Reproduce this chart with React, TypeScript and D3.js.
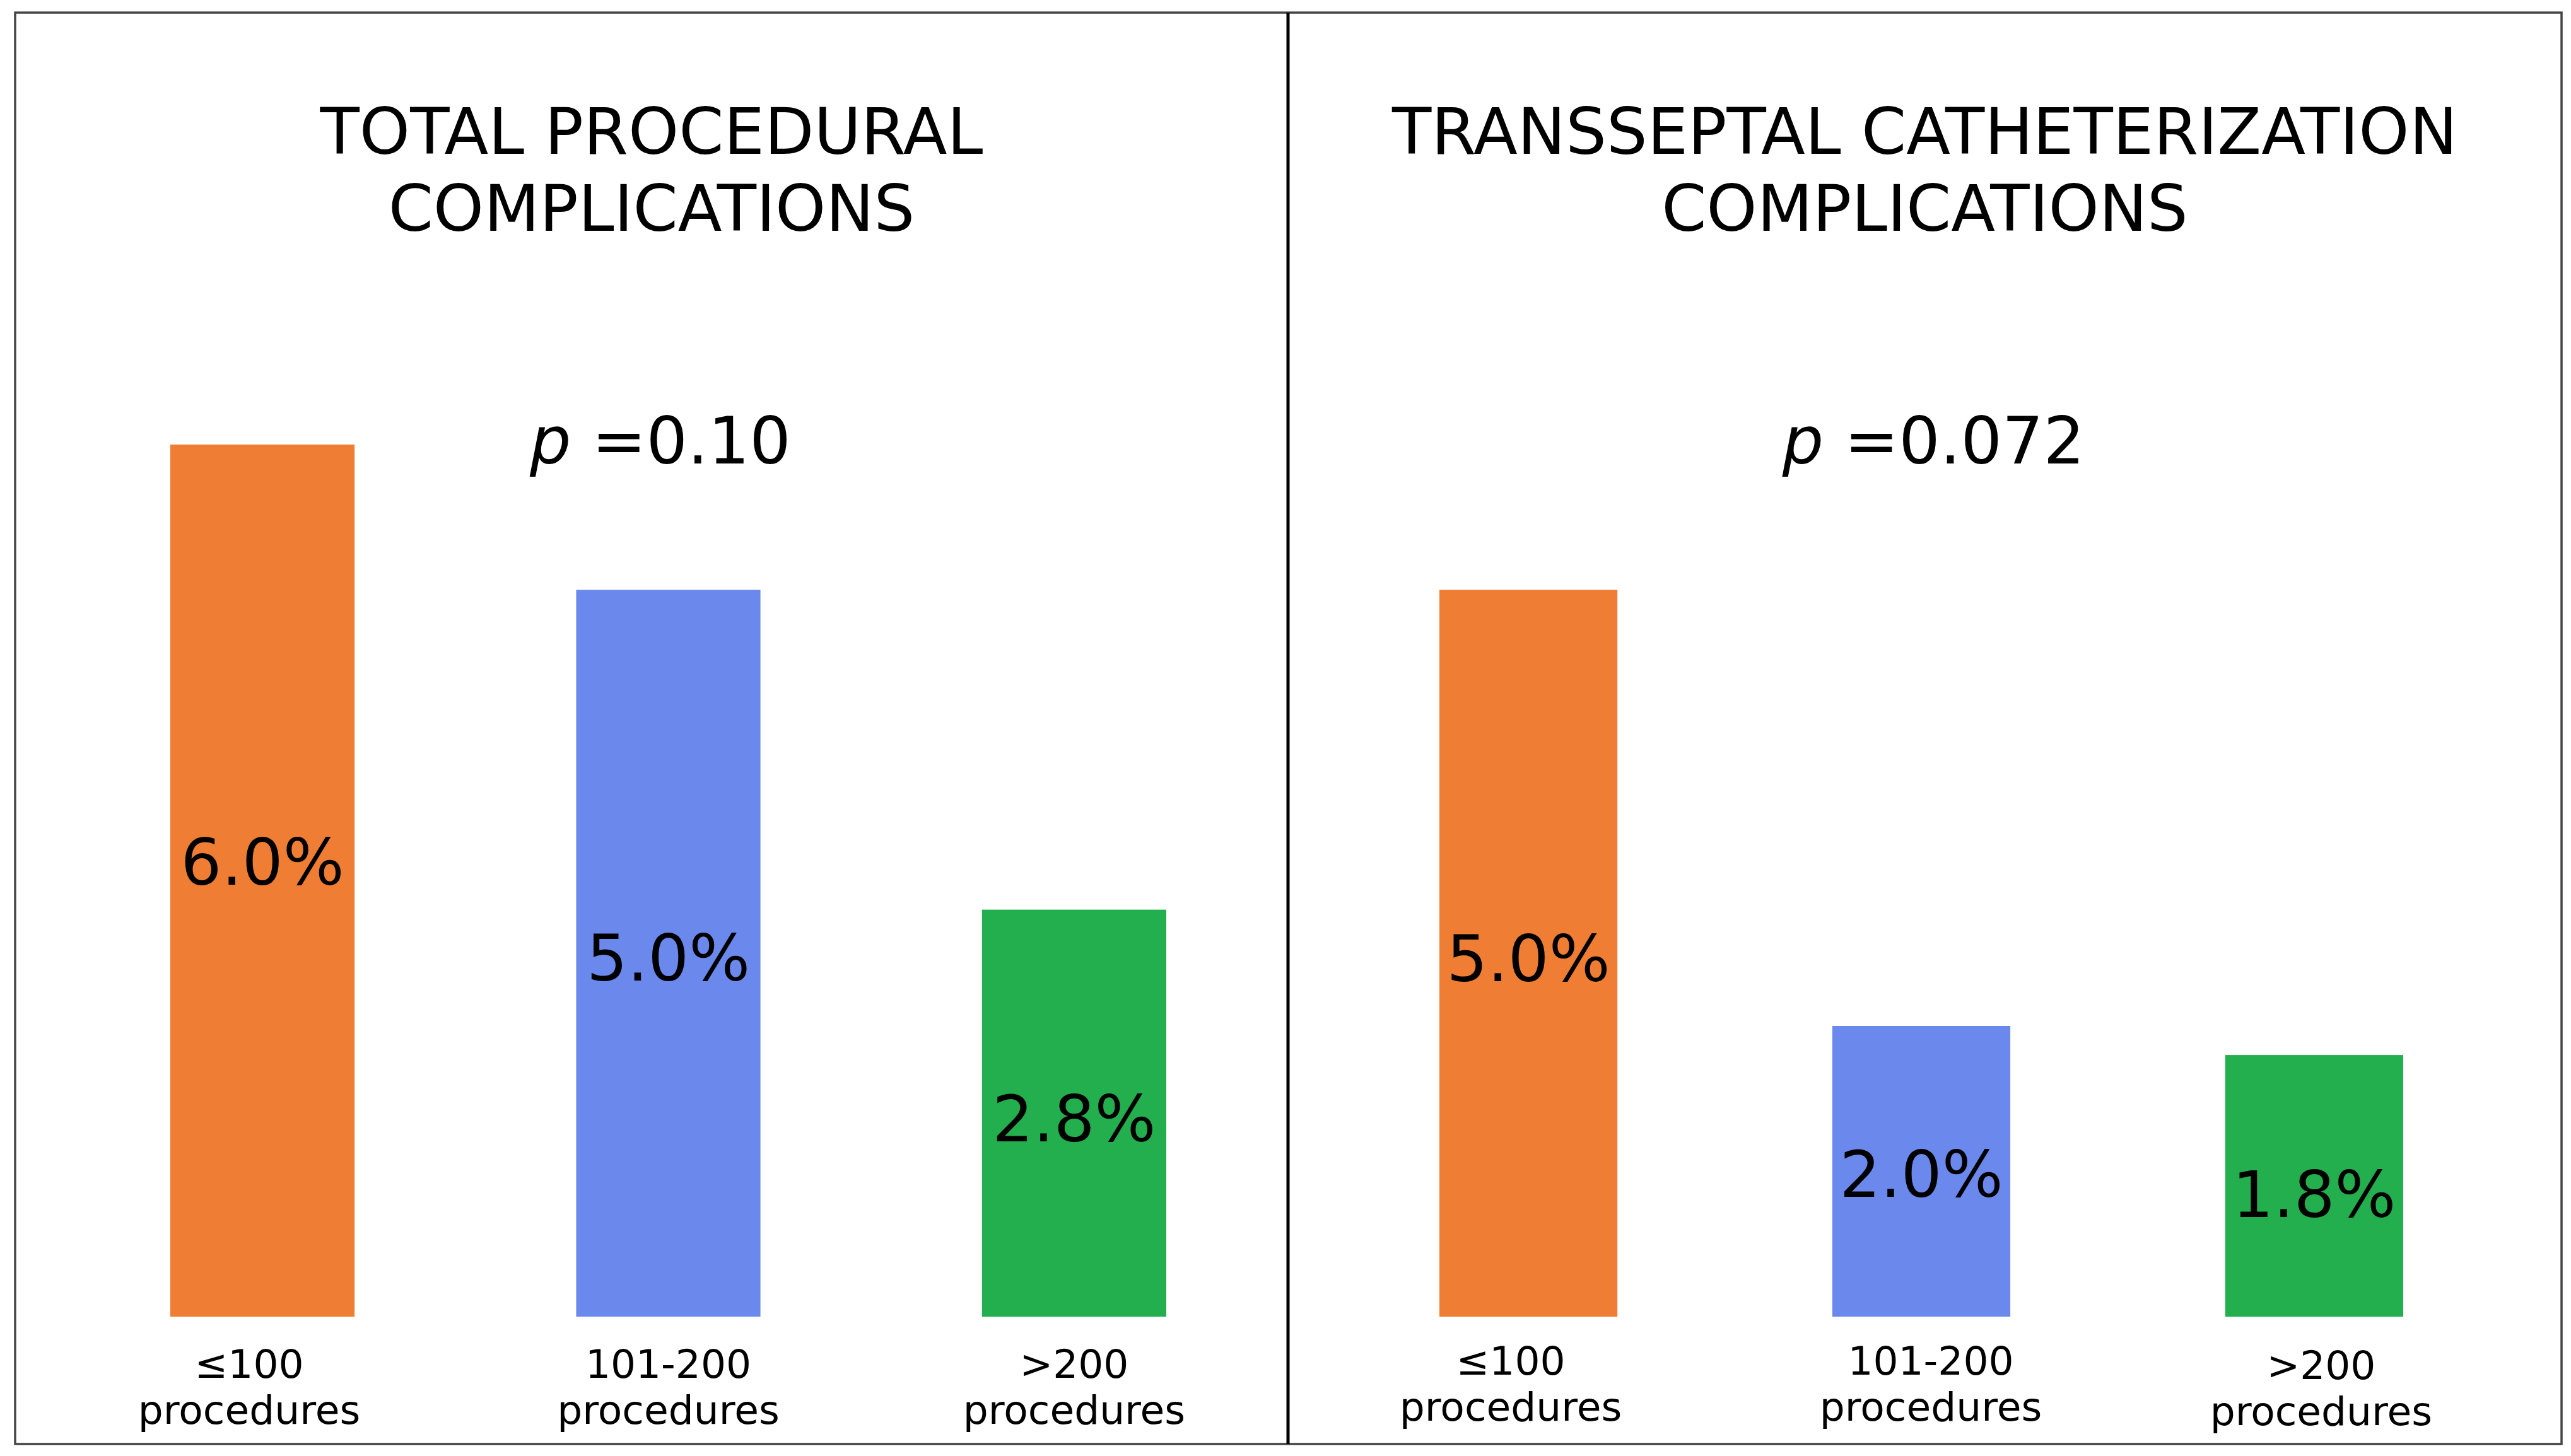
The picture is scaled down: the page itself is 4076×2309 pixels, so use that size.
import React from "react";
import * as d3 from "d3";

const categories = ["≤100", "101-200", ">200"];
const categorySub = "procedures";
const totalValues = [6.0, 5.0, 2.8];
const transseptalValues = [5.0, 2.0, 1.8];
const panelTitles = [
  ["TOTAL PROCEDURAL", "COMPLICATIONS"],
  ["TRANSSEPTAL CATHETERIZATION", "COMPLICATIONS"],
];
const pValues = ["=0.10", "=0.072"];
const colors = ["#EF7D33", "#6B88ED", "#23AF4E"];

const W = 4076;
const H = 2309;
const FONT = "'DejaVu Sans', Verdana, sans-serif";

const frame = { x0: 24, x1: 4061, y0: 20, y1: 2290, mid: 2042 };
// layout: hand-placed label nudges seen in the reference
const panels = [
  {
    values: totalValues,
    range: [270, 1849],
    pad: 0.546,
    cx: (24 + 2042) / 2,
    valueDy: [-30, 7, 8],
    catDx: [-21, 0, 0],
    catDy: [0, 0, 0],
  },
  {
    values: transseptalValues,
    range: [2282, 3810],
    pad: 0.547,
    cx: (2042 + 4061) / 2,
    valueDy: [8, 4, 13],
    catDx: [-28, 15, 11],
    catDy: [-5, -5, 2],
  },
];

const y = d3.scaleLinear().domain([0, 6]).range([2088, 705]);

export default function App() {
  return (
    <svg
      width={W}
      height={H}
      viewBox={`0 0 ${W} ${H}`}
      style={{ position: "absolute", left: 0, top: 0, display: "block", background: "#fff" }}
      fontFamily={FONT}
    >
      <rect x={0} y={0} width={W} height={H} fill="#fff" />
      {panels.map((p, pi) => {
        const x = d3
          .scaleBand<string>()
          .domain(categories)
          .range(p.range as [number, number])
          .paddingInner(p.pad)
          .paddingOuter(0);
        return (
          <g key={pi}>
            <text textAnchor="middle" fontSize={102} fill="#000">
              <tspan x={p.cx} y={244}>{panelTitles[pi][0]}</tspan>
              <tspan x={p.cx} y={366}>{panelTitles[pi][1]}</tspan>
            </text>
            <text x={p.cx + 14} y={735} textAnchor="middle" fontSize={103} fill="#000">
              <tspan fontStyle="italic">p</tspan>
              <tspan> {pValues[pi]}</tspan>
            </text>
            {p.values.map((v, i) => {
              const c = categories[i];
              const bx = x(c)!;
              const bw = x.bandwidth();
              const top = y(v);
              const bottom = y(0);
              const cx = bx + bw / 2;
              const lx = cx + p.catDx[i];
              return (
                <g key={c}>
                  <rect x={bx} y={top} width={bw} height={bottom - top} fill={colors[i]} />
                  <text
                    x={cx}
                    y={(top + bottom) / 2 + p.valueDy[i]}
                    dy="0.36em"
                    textAnchor="middle"
                    fontSize={102}
                    fill="#000"
                  >
                    {v.toFixed(1)}%
                  </text>
                  <text textAnchor="middle" fontSize={63} fill="#000">
                    <tspan x={lx} y={2185 + p.catDy[i]}>{c}</tspan>
                    <tspan x={lx} y={2258 + p.catDy[i]}>{categorySub}</tspan>
                  </text>
                </g>
              );
            })}
          </g>
        );
      })}
      <rect
        x={frame.x0}
        y={frame.y0}
        width={frame.x1 - frame.x0}
        height={frame.y1 - frame.y0}
        fill="none"
        stroke="#444"
        strokeWidth={3.5}
      />
      <line x1={frame.mid} x2={frame.mid} y1={frame.y0} y2={frame.y1} stroke="#000" strokeWidth={5} />
    </svg>
  );
}
